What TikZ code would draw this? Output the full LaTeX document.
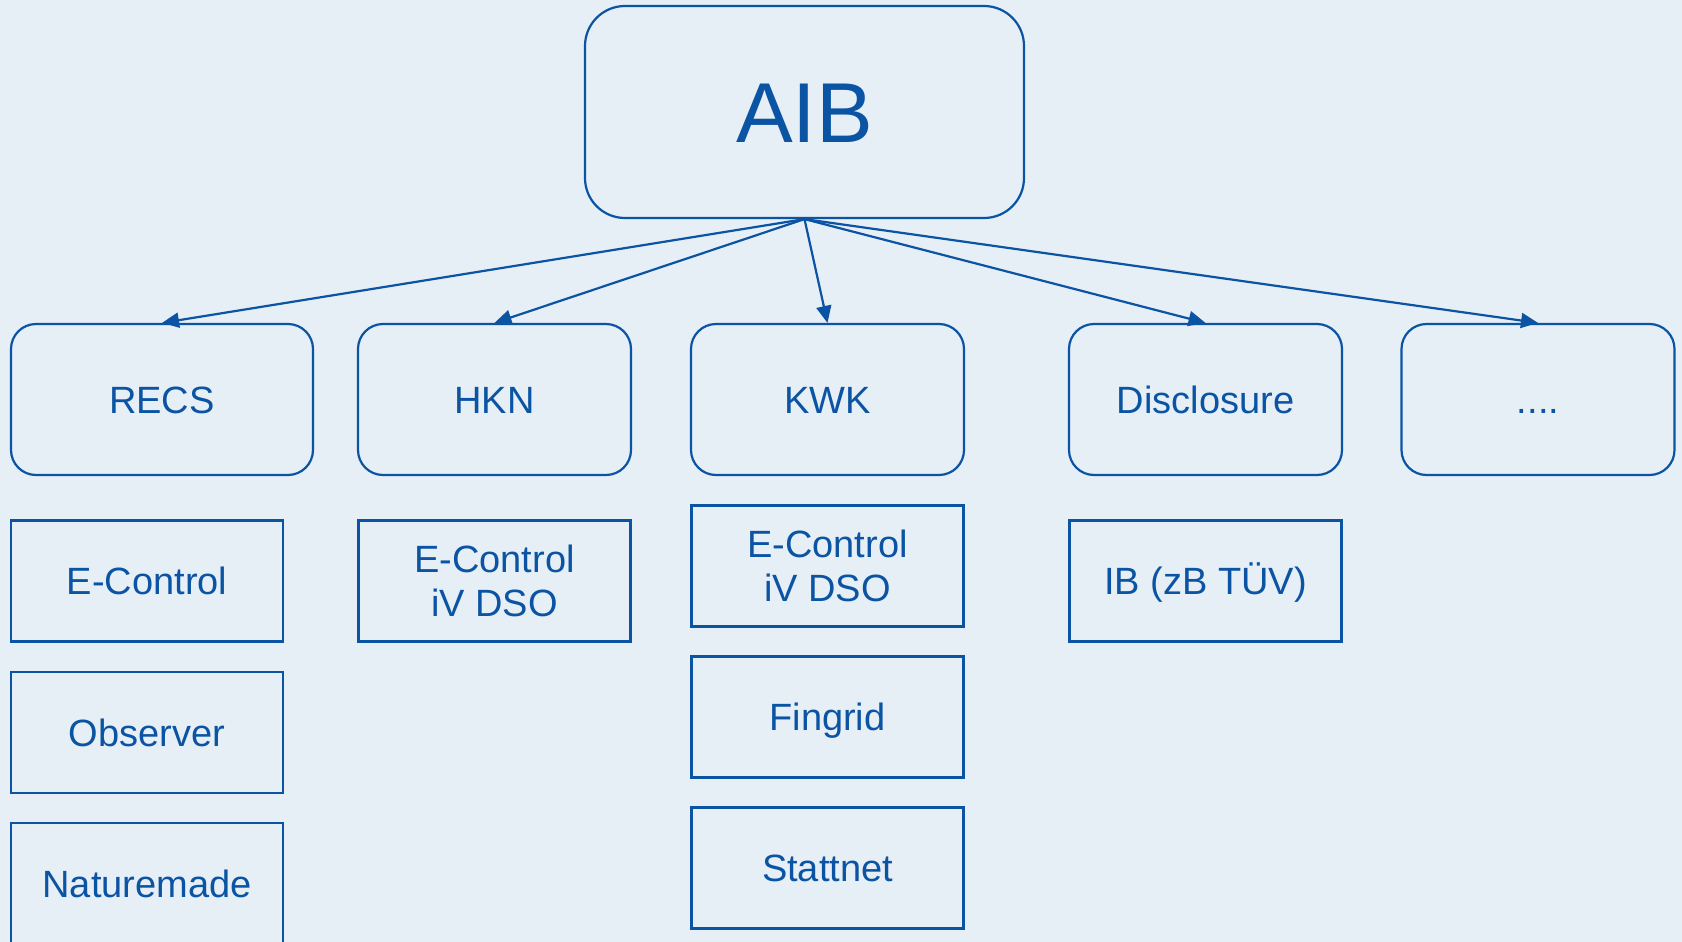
\documentclass[tikz,border=0pt]{standalone}
\usepackage{fontspec}
\setmainfont{Liberation Sans}
\usetikzlibrary{arrows.meta}
\definecolor{aibblue}{RGB}{11,84,164}
\definecolor{aibbg}{RGB}{230,238,246}

\begin{document}
\begin{tikzpicture}[x=0.5pt,y=-0.5pt,
  every node/.style={text=aibblue,draw=aibblue,line width=1.1pt,align=center},
  topbox/.style={rounded corners=20pt,minimum width=219.5pt,minimum height=106pt,
    text height=30.4pt,text depth=0pt,font=\fontsize{42.5}{50}\selectfont},
  catbox/.style={rounded corners=12.5pt,minimum width=136.5pt,minimum height=75.5pt,
    text height=13.6pt,text depth=0pt,font=\fontsize{19}{21.7}\selectfont},
  issbox/.style={minimum width=136pt,minimum height=60.5pt,font=\fontsize{19}{21.7}\selectfont},
  oneline/.style={text height=13.6pt,text depth=0pt}]
\useasboundingbox[fill=aibbg] (0,0) rectangle (1682,942);
\node[topbox] (aib) at (804.5,112) {AIB};
\node[catbox,minimum width=151pt] (recs) at (162,399.5) {RECS};
\node[catbox] (hkn) at (494.5,399.5) {HKN};
\node[catbox] (kwk) at (827.5,399.5) {KWK};
\node[catbox] (discl) at (1205.5,399.5) {Disclosure};
\node[catbox] (more) at (1538,399.5) {....};
\node[issbox,oneline] (recsA) at (147,581) {E-Control};
\node[issbox,oneline] (recsB) at (147,732.5) {Observer};
\node[issbox,oneline] (recsC) at (147,883.5) {Naturemade};
\node[issbox] (hknA) at (494.5,581) {E-Control\\ iV DSO};
\node[issbox] (kwkA) at (827.5,566) {E-Control\\ iV DSO};
\node[issbox,oneline] (kwkB) at (827.5,717) {Fingrid};
\node[issbox,oneline] (kwkC) at (827.5,868) {Stattnet};
\node[issbox,oneline] (disclA) at (1205.5,581) {IB (zB TÜV)};
\path[->,>={Triangle[length=8.5pt,width=7.5pt]},color=aibblue,line width=1.1pt]
(aib.south) edge (recs.north)
(aib.south) edge (hkn.north)
(aib.south) edge (kwk.north)
(aib.south) edge (discl.north)
(aib.south) edge (more.north);
\end{tikzpicture}
\end{document}
